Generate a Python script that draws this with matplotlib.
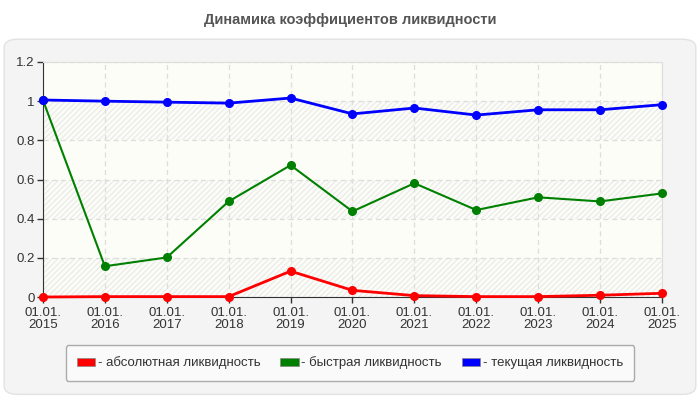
import matplotlib.pyplot as plt
from matplotlib.patches import FancyBboxPatch, Patch

plt.rcParams['font.family'] = ['Liberation Sans', 'DejaVu Sans']

years = ['2015', '2016', '2017', '2018', '2019', '2020', '2021', '2022', '2023', '2024', '2025']
x_labels = ['01.01.\n' + y for y in years]

absolute = [0.0, 0.002, 0.002, 0.002, 0.132, 0.034, 0.007, 0.002, 0.002, 0.009, 0.019]
quick = [1.005, 0.157, 0.202, 0.488, 0.673, 0.437, 0.581, 0.444, 0.509, 0.488, 0.529]
current = [1.006, 1.0, 0.995, 0.990, 1.016, 0.935, 0.965, 0.929, 0.956, 0.956, 0.982]

series = [
    ('- абсолютная ликвидность', absolute, '#ff0000', 2.0),
    ('- быстрая ликвидность', quick, '#008000', 1.5),
    ('- текущая ликвидность', current, '#0000ff', 2.0),
]

fig = plt.figure(figsize=(7, 4), dpi=100)
fig.patch.set_facecolor('white')

# серая панель с закруглёнными углами
panel = FancyBboxPatch((0.006, 0.014), 0.988, 0.888,
                       boxstyle='round,pad=0,rounding_size=0.02',
                       transform=fig.transFigure, facecolor='#f4f4f4',
                       edgecolor='#e2e2e2', linewidth=1, zorder=-10)
fig.patches.append(panel)

fig.text(0.5, 0.95, 'Динамика коэффициентов ликвидности', ha='center', va='center',
         fontsize=10.5, fontweight='bold', color='#555555')

ax = fig.add_axes([0.0614, 0.2575, 0.8843, 0.5875])
ax.set_facecolor('#fdfdf7')
xs = list(range(len(years)))
ax.set_xlim(0, len(years) - 1)
ax.set_ylim(0, 1.2)

# полосы фона со штриховкой
yt = [0, 0.2, 0.4, 0.6, 0.8, 1.0, 1.2]
for i in range(0, 6, 2):
    ax.axhspan(yt[i], yt[i + 1], facecolor='none', edgecolor='#ececec',
               hatch='//////', linewidth=0, zorder=0)

ax.grid(True, linestyle=(0, (4, 3)), color='#dddddd', linewidth=0.9, zorder=1)
ax.set_axisbelow(True)

for label, vals, color, lw in series:
    ax.plot(xs, vals, color=color, linewidth=lw, marker='o', markersize=5.5,
            zorder=3, clip_on=False)

ax.set_xticks(xs)
ax.set_xticklabels(x_labels, fontsize=9.5, color='#333333', linespacing=1.0)
ax.set_yticks(yt)
ax.set_yticklabels(['0', '0.2', '0.4', '0.6', '0.8', '1', '1.2'], fontsize=9.5, color='#333333')
ax.tick_params(axis='both', direction='out', length=4, color='#333333', width=1, pad=2)
ax.tick_params(axis='x', pad=3.5)

ax.spines['left'].set_color('#333333')
ax.spines['bottom'].set_color('#333333')
ax.spines['top'].set_color('#dddddd')
ax.spines['right'].set_color('#dddddd')

handles = [Patch(facecolor=c, edgecolor='#888888', linewidth=0.5, label=l) for l, v, c, w in series]
leg = fig.legend(handles=handles, loc='center', bbox_to_anchor=(0.5, 0.0925), ncol=3,
                 fontsize=9.5, frameon=True, fancybox=True, facecolor='#fafafa',
                 edgecolor='#aaaaaa', handlelength=1.4, handleheight=0.6,
                 handletextpad=0.2, columnspacing=1.5, borderpad=0.85)
leg.get_frame().set_linewidth(1)
leg.get_frame().set_alpha(1)
for t in leg.get_texts():
    t.set_color('#333333')

plt.savefig('out.png', dpi=100, facecolor=fig.get_facecolor())
